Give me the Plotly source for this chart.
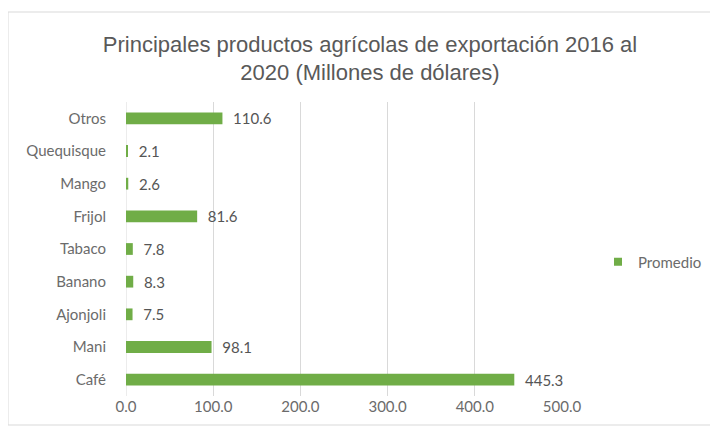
import plotly.graph_objects as go

cat_labels = ["Café", "Mani", "Ajonjoli", "Banano", "Tabaco", "Frijol", "Mango", "Quequisque", "Otros"]
values = [445.3, 98.1, 7.5, 8.3, 7.8, 81.6, 2.6, 2.1, 110.6]
tick_vals = [0, 100, 200, 300, 400, 500]
tick_text = ["0.0", "100.0", "200.0", "300.0", "400.0", "500.0"]
series_name = "Promedio"

# page body has an 8px margin, so the figure starts at (8, 8) in the window
W, H = 710, 426
L, R, T, B = 118, 156, 94, 38
pw, ph = W - L - R, H - T - B
FONT = "Lato, Open Sans, sans-serif"
TXT = "#6b6b6b"

fig = go.Figure()
fig.add_trace(go.Bar(
    y=cat_labels, x=values, orientation="h", name=series_name, showlegend=False,
    marker=dict(color="#70AD47", line=dict(width=0)),
    text=["\u00a0\u00a0" + f"{v:.1f}" for v in values], textposition="outside",
    constraintext="none",
    textfont=dict(family=FONT, size=15, color="#555555"),
    cliponaxis=False,
))
fig.add_trace(go.Scatter(
    x=[None], y=[None], mode="markers", name=series_name,
    marker=dict(symbol="square", size=8, color="#70AD47"),
))

def px_x(p):
    return (p - L) / pw

def px_y(p):
    return (H - B - p) / ph

fig.update_layout(
    width=W, height=H,
    margin=dict(l=L, r=R, t=T, b=B, autoexpand=False),
    paper_bgcolor="white", plot_bgcolor="white",
    bargap=0.64,
    showlegend=True,
    title=dict(
        text="Principales productos agrícolas de exportación 2016 al<br>2020 (Millones de dólares)",
        x=362 / W, xanchor="center", y=1 - 43.5 / H, yanchor="middle",
        font=dict(family="Liberation Sans, Arial, sans-serif", size=22, color="#595959"),
    ),
    legend=dict(x=px_x(590), y=px_y(254), xanchor="left", yanchor="middle",
                itemwidth=30,
                font=dict(family=FONT, size=15, color=TXT),
                bgcolor="rgba(0,0,0,0)"),
    xaxis=dict(range=[0, 500], tickvals=tick_vals, ticktext=tick_text,
               showgrid=True, gridcolor="#D9D9D9", gridwidth=1,
               zeroline=False, showline=False, ticks="", automargin=False,
               tickfont=dict(family=FONT, size=15, color=TXT)),
    yaxis=dict(showgrid=False, zeroline=False, showline=False, ticks="",
               automargin=False, ticklabelstandoff=19,
               tickfont=dict(family=FONT, size=15, color=TXT)),
    shapes=[
        dict(type="rect", xref="paper", yref="paper",
             x0=px_x(0), x1=px_x(708), y0=px_y(417), y1=px_y(4),
             line=dict(color="#D9D9D9", width=1), layer="below"),
        dict(type="line", xref="x", yref="paper", x0=0, x1=0, y0=0, y1=1,
             line=dict(color="#D9D9D9", width=1), layer="below"),
    ],
)

fig.write_html("out.html")
